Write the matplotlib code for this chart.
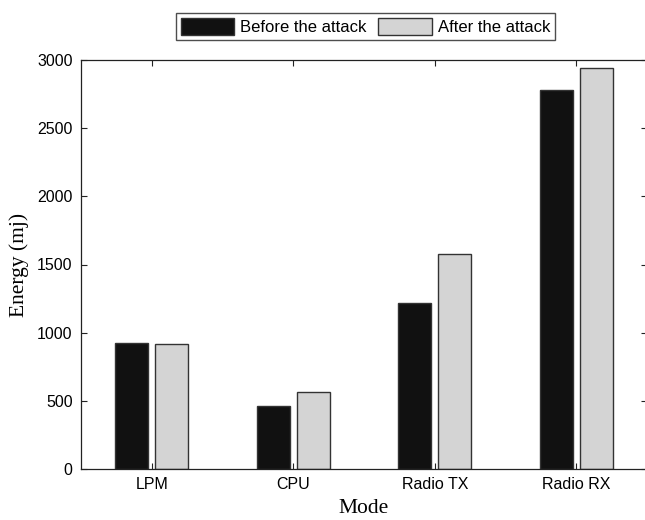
import matplotlib
matplotlib.use("Agg")
import matplotlib.pyplot as plt
import numpy as np

categories = ["LPM", "CPU", "Radio TX", "Radio RX"]
before_attack = [922, 462, 1218, 2783]
after_attack = [920, 562, 1576, 2940]
series_names = ["Before the attack", "After the attack"]
y_ticks = [0, 500, 1000, 1500, 2000, 2500, 3000]

fig = plt.figure(figsize=(6.45, 5.2), dpi=100)
W, H = 645, 520
left_px, right_px, top_px, bottom_px = 81, 647, 60, 469
ax = fig.add_axes([left_px / W, 1 - bottom_px / H, (right_px - left_px) / W, (bottom_px - top_px) / H])

x = np.arange(1, len(categories) + 1)
bw = 0.233
off = 0.143
ax.bar(x - off, before_attack, bw, color="#111111", edgecolor="#333333", linewidth=1.0, label=series_names[0])
ax.bar(x + off, after_attack, bw, color="#d4d4d4", edgecolor="#333333", linewidth=1.0, label=series_names[1])

ax.set_xlim(0.5, 4.5)
ax.set_ylim(0, 3000)
ax.set_xticks(x)
ax.set_xticklabels(categories, fontfamily="Liberation Sans", fontsize=11.5)
ax.set_yticks(y_ticks)
ax.set_yticklabels([str(v) for v in y_ticks], fontfamily="Liberation Sans", fontsize=11.5)
ax.tick_params(direction="in", top=True, right=True, length=4, width=0.8, color="#222222", pad=6)
for s in ax.spines.values():
    s.set_linewidth(0.9)
    s.set_color("#222222")

ax.set_xlabel("Mode", fontfamily="Liberation Serif", fontsize=15.5, labelpad=5)
ax.set_ylabel("Energy (mj)", fontfamily="Liberation Serif", fontsize=15.5, labelpad=6)

leg = fig.legend(loc="center", bbox_to_anchor=(365.5 / W, 1 - 26.5 / H), ncol=2, frameon=True, fancybox=False,
                 edgecolor="#222222", prop={"family": "Liberation Sans", "size": 12},
                 handlelength=3.2, handleheight=1.2, columnspacing=0.7, handletextpad=0.35,
                 borderpad=0.3, borderaxespad=0)
leg.get_frame().set_linewidth(1.0)

fig.savefig("out.png", dpi=100)
